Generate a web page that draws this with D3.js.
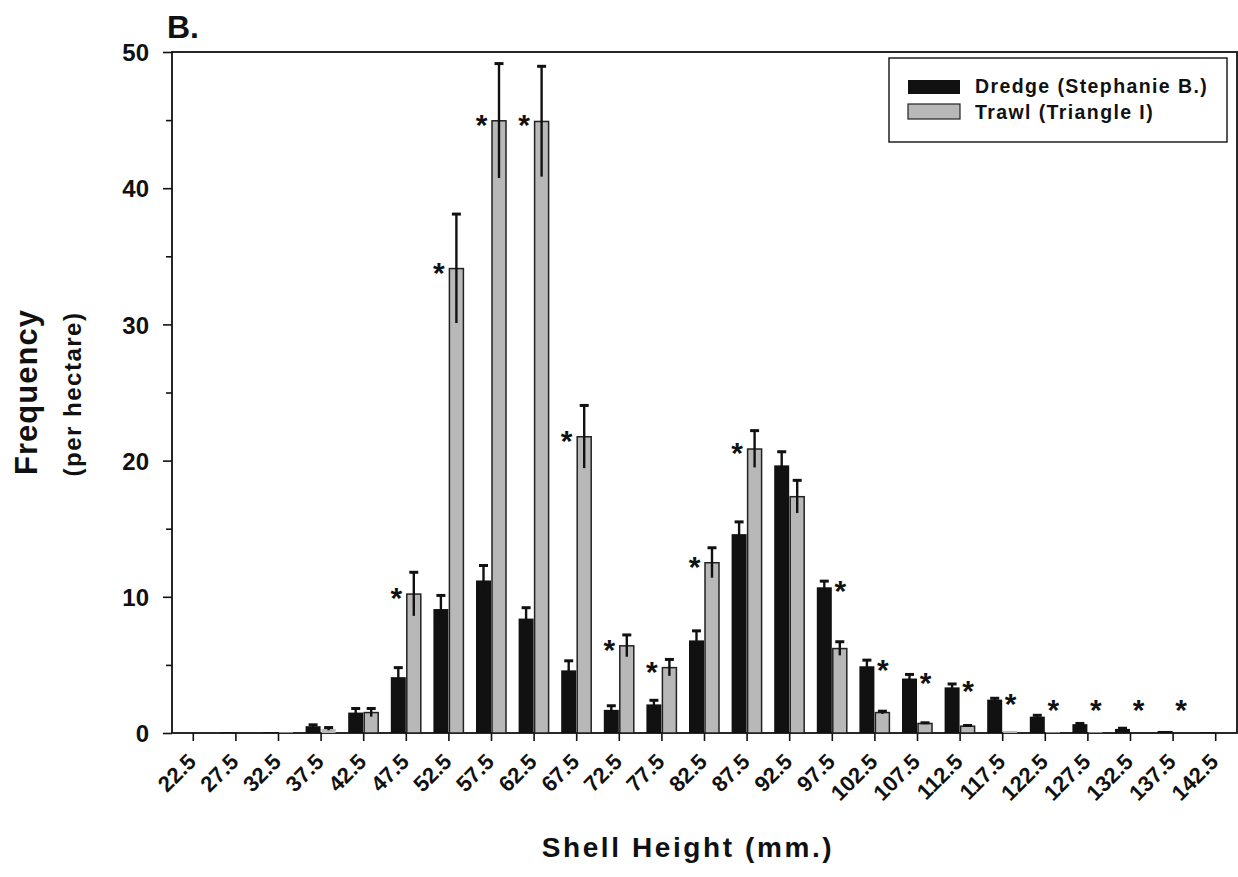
<!DOCTYPE html>
<html>
<head>
<meta charset="utf-8">
<script src="https://cdn.jsdelivr.net/npm/d3@7"></script>
<style>
  body { margin: 0; background: #fff; }
  svg text { font-family: "Liberation Sans", Arial, Helvetica, sans-serif; font-weight: bold; fill: #111; }
</style>
</head>
<body>
<div class="chart"></div>
<script>
// Data
let sizes = ["22.5", "27.5", "32.5", "37.5", "42.5", "47.5", "52.5", "57.5", "62.5", "67.5", "72.5", "77.5", "82.5",
    "87.5", "92.5", "97.5", "102.5", "107.5", "112.5", "117.5", "122.5", "127.5", "132.5", "137.5", "142.5"];
let dredge = [0, 0.05, 0.05, 0.5, 1.5, 4.1, 9.1, 11.2, 8.4, 4.6, 1.7, 2.1, 6.8,
    14.6, 19.65, 10.7, 4.9, 4.0, 3.35, 2.45, 1.2, 0.65, 0.3, 0.15, 0.05];
let dredgeErr = [0, 0, 0, 0.1, 0.3, 0.7, 1.0, 1.1, 0.8, 0.7, 0.3, 0.3, 0.7,
    0.9, 1.0, 0.45, 0.45, 0.3, 0.25, 0.1, 0.1, 0.05, 0.05, 0, 0];
let trawl = [0, 0, 0.05, 0.3, 1.5, 10.2, 34.1, 44.95, 44.9, 21.75, 6.4, 4.8, 12.5,
    20.85, 17.35, 6.2, 1.5, 0.7, 0.5, 0.15, 0.05, 0.05, 0, 0, 0];
let trawlErr = [0, 0, 0, 0.1, 0.3, 1.6, 4.0, 4.2, 4.05, 2.3, 0.8, 0.6, 1.1,
    1.35, 1.2, 0.5, 0.1, 0.05, 0.05, 0, 0, 0, 0, 0, 0];
let significant = [false, false, false, false, false, true, true, true, true, true, true, true, true,
    true, false, true, true, true, true, true, true, true, true, true, false];
let yTicks = [0, 10, 20, 30, 40, 50];
let seriesNames = ["Dredge (Stephanie B.)", "Trawl (Triangle I)"];

let W = 1238, H = 877;
let plotLeft = 172, plotRight = 1237, plotTop = 52, plotBottom = 733;

let svg = d3.select(".chart").append("svg")
    .attr("width", W)
    .attr("height", H);

let x = d3.scaleBand().domain(sizes).range([plotLeft, plotRight]).padding(0);
let y = d3.scaleLinear().domain([0, 50]).range([plotBottom, plotTop]);
let barW = 15;

// frame
svg.append("rect")
    .attr("x", plotLeft).attr("y", plotTop)
    .attr("width", plotRight - plotLeft).attr("height", plotBottom - plotTop)
    .attr("fill", "none").attr("stroke", "#111").attr("stroke-width", 1.8);

// y axis
let yAxis = d3.axisLeft(y).tickValues(yTicks).tickSize(9).tickPadding(14).tickFormat(d3.format("d"));
let gy = svg.append("g").attr("transform", `translate(${plotLeft},0)`).call(yAxis);
gy.select(".domain").remove();
gy.selectAll("line").attr("stroke", "#111").attr("stroke-width", 1.6);
gy.selectAll("text").style("font-size", "24px").style("font-family", "'Liberation Sans', Arial, sans-serif")
    .style("font-weight", "bold").attr("dy", "0.36em");

let gyMinor = svg.append("g").attr("transform", `translate(${plotLeft},0)`)
    .call(d3.axisLeft(y).tickValues([5, 15, 25, 35, 45]).tickSize(6).tickFormat(""));
gyMinor.select(".domain").remove();
gyMinor.selectAll("line").attr("stroke", "#111").attr("stroke-width", 1.6);

// x axis
let xAxis = d3.axisBottom(x).tickSize(8).tickFormat("");
let gx = svg.append("g").attr("transform", `translate(0,${plotBottom})`).call(xAxis);
gx.select(".domain").remove();
gx.selectAll("line").attr("stroke", "#111").attr("stroke-width", 1.6);

svg.append("g").selectAll("text")
    .data(sizes)
    .join("text")
    .attr("transform", d => `translate(${x(d) + x.bandwidth() / 2 + 4},763) rotate(-45)`)
    .attr("text-anchor", "end")
    .style("font-size", "22px")
    .text(d => d);

// bars
let groups = svg.append("g").selectAll("g")
    .data(sizes)
    .join("g")
    .attr("transform", d => `translate(${x(d) + x.bandwidth() / 2},0)`);

groups.append("rect")
    .attr("x", -barW - 0.5)
    .attr("width", barW)
    .attr("y", (d, i) => y(dredge[i]))
    .attr("height", (d, i) => plotBottom - y(dredge[i]))
    .attr("fill", "#111");

groups.append("rect")
    .attr("x", 0.5)
    .attr("width", barW - 1)
    .attr("y", (d, i) => y(trawl[i]))
    .attr("height", (d, i) => plotBottom - y(trawl[i]))
    .attr("fill", "#b8b8b8")
    .attr("stroke", "#222")
    .attr("stroke-width", (d, i) => trawl[i] > 0.3 ? 1.5 : 0);

// error bars
function errBar(vals, errs, cx) {
    let g = groups.filter((d, i) => errs[i] > 0);
    g.append("line")
        .attr("x1", cx).attr("x2", cx)
        .attr("y1", d => y(Math.max(0, vals[sizes.indexOf(d)] - errs[sizes.indexOf(d)])))
        .attr("y2", d => y(vals[sizes.indexOf(d)] + errs[sizes.indexOf(d)]))
        .attr("stroke", "#111").attr("stroke-width", 2.4);
    g.append("line")
        .attr("x1", cx - 4.5).attr("x2", cx + 4.5)
        .attr("y1", d => y(vals[sizes.indexOf(d)] + errs[sizes.indexOf(d)]))
        .attr("y2", d => y(vals[sizes.indexOf(d)] + errs[sizes.indexOf(d)]))
        .attr("stroke", "#111").attr("stroke-width", 3);
}
errBar(dredge, dredgeErr, -barW / 2 - 0.5);
errBar(trawl, trawlErr, barW / 2);

// significance stars: over the smaller bar, level with the taller one
groups.filter((d, i) => significant[i])
    .append("text")
    .attr("x", d => {
        let i = sizes.indexOf(d);
        return trawl[i] > dredge[i] ? -10 : 8;
    })
    .attr("y", d => {
        let i = sizes.indexOf(d);
        return y(Math.max(dredge[i], trawl[i], 2.0)) + 14;
    })
    .attr("text-anchor", "middle")
    .style("font-size", "30px")
    .text("*");

// legend
let legend = svg.append("g");
legend.append("rect")
    .attr("x", 889).attr("y", 58).attr("width", 338).attr("height", 84)
    .attr("fill", "#fff").attr("stroke", "#111").attr("stroke-width", 1.4);
legend.append("rect").attr("x", 908).attr("y", 80).attr("width", 52).attr("height", 14).attr("fill", "#111");
legend.append("rect").attr("x", 908).attr("y", 104).attr("width", 52).attr("height", 15)
    .attr("fill", "#b8b8b8").attr("stroke", "#222").attr("stroke-width", 1.2);
legend.selectAll("text.lab")
    .data(seriesNames)
    .join("text")
    .attr("class", "lab")
    .attr("x", 975)
    .attr("y", (d, i) => 93 + i * 26)
    .style("font-size", "19.5px")
    .style("letter-spacing", "1.4px")
    .text(d => d);

// titles
svg.append("text").attr("x", 167).attr("y", 38).style("font-size", "32px").text("B.");

svg.append("text")
    .attr("x", 688).attr("y", 857)
    .attr("text-anchor", "middle")
    .style("font-size", "28px")
    .style("letter-spacing", "2.6px")
    .text("Shell Height (mm.)");

svg.append("text")
    .attr("transform", "translate(37,392) rotate(-90)")
    .attr("text-anchor", "middle")
    .style("font-size", "31px")
    .style("letter-spacing", "1px")
    .text("Frequency");

svg.append("text")
    .attr("transform", "translate(81,394) rotate(-90)")
    .attr("text-anchor", "middle")
    .style("font-size", "24px")
    .style("letter-spacing", "1.5px")
    .text("(per hectare)");
</script>
</body>
</html>
